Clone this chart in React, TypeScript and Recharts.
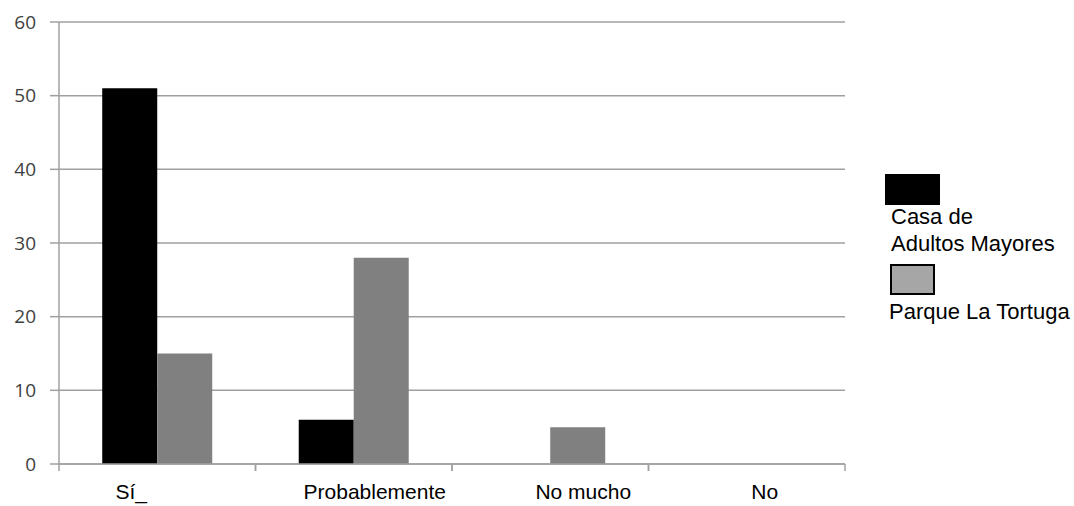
import { BarChart, Bar, XAxis, YAxis, CartesianGrid } from "recharts";

const categories = ["Sí_", "Probablemente", "No mucho", "No"];
const casaAdultos = [51, 6, 0, 0];
const parqueTortuga = [15, 28, 5, 0];
const yTicks = [0, 10, 20, 30, 40, 50, 60];

const data = categories.map((name, i) => ({
  name,
  casa: casaAdultos[i],
  parque: parqueTortuga[i],
}));

const W = 1074;
const H = 506;
const margin = { top: 22, right: 229, bottom: 0, left: 0 };
const yAxisWidth = 59;
const band = (W - margin.right - yAxisWidth) / categories.length;
// labels in the original sit a little off the band centres
const labelShift = [-26, 21, 33, 18];

const axisGray = "#a0a0a0";
const arial = "'Liberation Sans', Arial, sans-serif";

function CategoryTick(props: any) {
  const { x, y, payload, index } = props;
  const left = x - band / 2;
  const right = x + band / 2;
  return (
    <g>
      <line x1={left} y1={y} x2={left} y2={y + 7} stroke={axisGray} strokeWidth={1.5} />
      <line x1={right} y1={y} x2={right} y2={y + 7} stroke={axisGray} strokeWidth={1.5} />
      <text
        x={x + (labelShift[index] ?? 0)}
        y={y + 35}
        textAnchor="middle"
        fontFamily={arial}
        fontSize={21}
        fill="#000"
      >
        {payload.value}
      </text>
    </g>
  );
}

function ChartLegend() {
  return (
    <div style={{ fontFamily: arial, fontSize: 22, color: "#000", lineHeight: "27px" }}>
      <div style={{ position: "absolute", left: 885, top: 174, width: 55, height: 31, background: "#000" }} />
      <div style={{ position: "absolute", left: 891, top: 203, whiteSpace: "nowrap" }}>
        Casa de
        <br />
        Adultos Mayores
      </div>
      <div
        style={{
          position: "absolute",
          left: 890,
          top: 264,
          width: 41,
          height: 27,
          background: "#a6a6a6",
          border: "2px solid #000",
        }}
      />
      <div style={{ position: "absolute", left: 889, top: 298, whiteSpace: "nowrap" }}>
        Parque La Tortuga
      </div>
    </div>
  );
}

export default function App() {
  return (
    <div style={{ position: "absolute", left: 0, top: 0, width: W, height: H, background: "#fff" }}>
      <BarChart width={W} height={H} data={data} margin={margin} barCategoryGap="22%" barGap={0}>
        <CartesianGrid vertical={false} stroke={axisGray} strokeWidth={1.5} />
        <XAxis
          dataKey="name"
          height={42}
          axisLine={{ stroke: axisGray, strokeWidth: 1.5 }}
          tickLine={false}
          tickSize={0}
          tickMargin={0}
          tick={<CategoryTick />}
          interval={0}
        />
        <YAxis
          width={yAxisWidth}
          domain={[0, 60]}
          ticks={yTicks}
          axisLine={{ stroke: axisGray, strokeWidth: 1.5 }}
          tickLine={{ stroke: axisGray, strokeWidth: 1.5 }}
          tickSize={9}
          tickMargin={14}
          tick={{ fill: "#404040", fontSize: 19, fontFamily: "'Open Sans', 'DejaVu Sans', sans-serif" }}
        />
        <Bar dataKey="casa" name="Casa de Adultos Mayores" fill="#000" isAnimationActive={false} />
        <Bar dataKey="parque" name="Parque La Tortuga" fill="#808080" isAnimationActive={false} />
      </BarChart>
      <ChartLegend />
    </div>
  );
}
